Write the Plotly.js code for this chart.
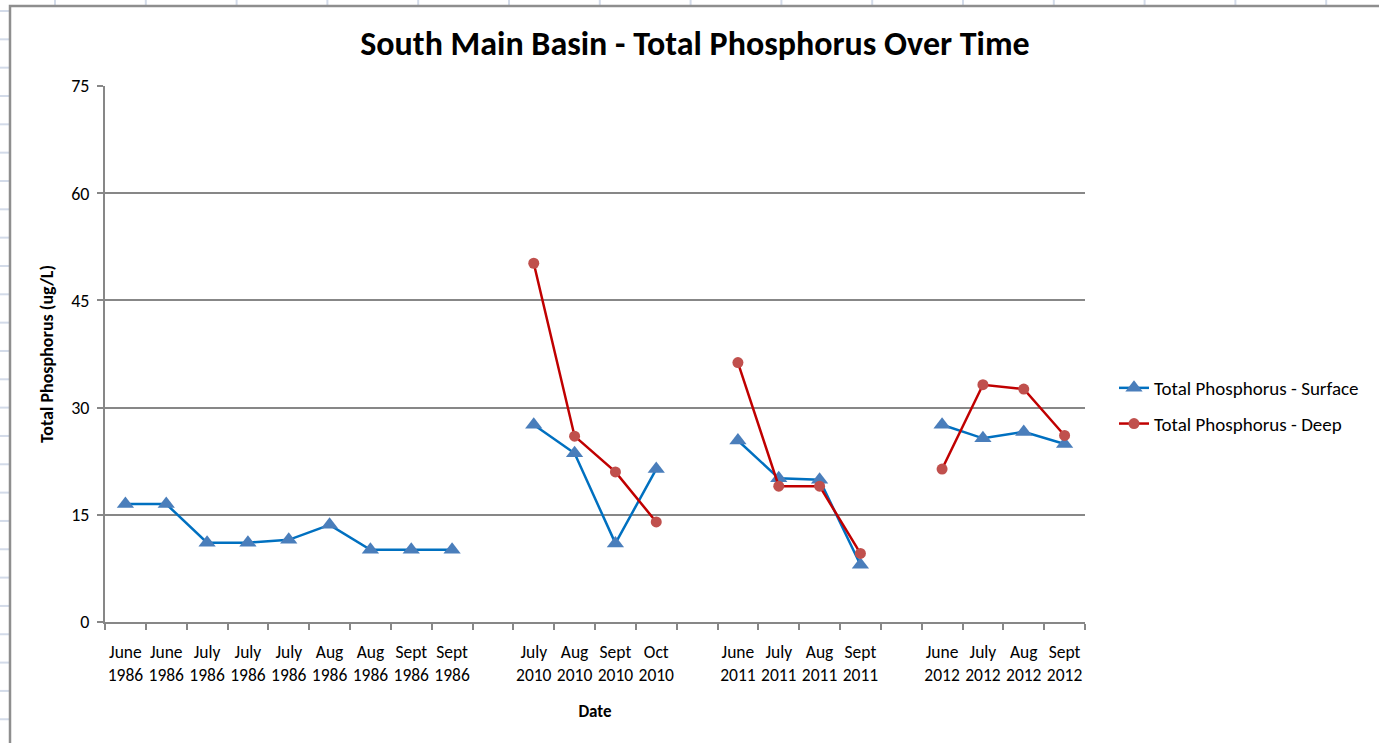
<!DOCTYPE html>
<html>
<head>
<meta charset="utf-8">
<script src="https://cdn.plot.ly/plotly-3.0.1.min.js"></script>
<style>
  html, body { margin: 0; padding: 0; background: #ffffff; }
  #chart { width: 1379px; height: 743px; }
</style>
</head>
<body>
<div id="chart"></div>
<script>
// ---- Data ----
const months = ["June","June","July","July","July","Aug","Aug","Sept","Sept","",
                "July","Aug","Sept","Oct","",
                "June","July","Aug","Sept","",
                "June","July","Aug","Sept"];
const years  = ["1986","1986","1986","1986","1986","1986","1986","1986","1986","",
                "2010","2010","2010","2010","",
                "2011","2011","2011","2011","",
                "2012","2012","2012","2012"];
const surface = [16.5,16.5,11.1,11.1,11.5,13.6,10.1,10.1,10.1,null,
                 27.6,23.6,11.0,21.4,null,
                 25.4,20.1,19.9,8.0,null,
                 27.6,25.7,26.6,24.9];
const deep    = [null,null,null,null,null,null,null,null,null,null,
                 50.2,26.0,21.0,14.0,null,
                 36.3,19.0,19.0,9.6,null,
                 21.4,33.2,32.6,26.1];
const yTicks = [0,15,30,45,60,75];

// ---- Derived ----
const idx = months.map((_, i) => i);
const labelIdx = idx.filter(i => months[i] !== "");
const labelText = labelIdx.map(i => months[i] + "<br>" + years[i]);
const boundaries = idx.map(i => i - 0.5).concat([months.length - 0.5]);

const FONT = "Carlito, Calibri, Lato, 'Liberation Sans', sans-serif";
const GRID = "#878787";

const traces = [
  {
    x: idx, y: surface, type: "scatter", mode: "lines+markers",
    name: "Total Phosphorus - Surface", legendgroup: "a",
    line: { color: "#0070C0", width: 2.5 },
    marker: { symbol: "triangle-up", size: 15, color: "#4A7EBB" },
    connectgaps: false, hoverinfo: "x+y"
  },
  {
    x: idx, y: deep, type: "scatter", mode: "lines+markers",
    name: "Total Phosphorus - Deep", legendgroup: "b",
    line: { color: "#C00000", width: 2.5 },
    marker: { symbol: "circle", size: 11, color: "#C0504D" },
    connectgaps: false, hoverinfo: "x+y"
  }
];

// ---- Decorations (spreadsheet frame) ----
const L = 105, R = 1085, T = 86, B = 622;
const px = v => (v - L) / (R - L);
const py = v => (B - v) / (B - T);
const shapes = [];
for (let k = 0; k < 27; k++) {
  const yy = 11 + 28.33 * k;
  shapes.push({ type: "line", xref: "paper", yref: "paper", layer: "below",
    x0: px(0), x1: px(9), y0: py(yy), y1: py(yy),
    line: { color: "#D3DBE9", width: 2 } });
}
for (let k = 0; k < 15; k++) {
  const xx = 55 + 90.8 * k;
  shapes.push({ type: "line", xref: "paper", yref: "paper", layer: "below",
    x0: px(xx), x1: px(xx), y0: py(0), y1: py(5),
    line: { color: "#D3DBE9", width: 2 } });
}
shapes.push({ type: "rect", xref: "paper", yref: "paper", layer: "below",
  x0: px(10), x1: px(1400), y0: py(6), y1: py(780),
  line: { color: "#8E8E8E", width: 2.5 }, fillcolor: "rgba(0,0,0,0)" });

const layout = {
  width: 1379, height: 743,
  margin: { l: L, r: 1379 - R, t: T, b: 743 - B, pad: 0 },
  paper_bgcolor: "#ffffff", plot_bgcolor: "#ffffff",
  font: { family: FONT, size: 17, color: "#000000" },
  showlegend: true,
  title: {
    text: "<b>South Main Basin - Total Phosphorus Over Time</b>",
    font: { family: FONT, size: 34, color: "#000000" },
    x: px(695), xref: "paper", xanchor: "center",
    y: 1 - 43 / 743, yref: "container", yanchor: "middle"
  },
  xaxis: {
    range: [-0.5, months.length - 0.5],
    tickmode: "array", tickvals: labelIdx, ticktext: labelText,
    ticks: "", showgrid: false, zeroline: false,
    showline: true, linecolor: GRID, linewidth: 2,
    tickfont: { family: FONT, size: 17.5, color: "#000000" },
    ticklabelstandoff: 13,
    minor: { tickmode: "array", tickvals: boundaries, ticks: "outside",
             ticklen: 6, tickwidth: 2, tickcolor: GRID, showgrid: false },
    title: { text: "<b>Date</b>", font: { family: FONT, size: 17, color: "#000000" }, standoff: 20 },
    fixedrange: true
  },
  yaxis: {
    range: [0, 75], tickmode: "array", tickvals: yTicks,
    ticks: "outside", ticklen: 6, tickwidth: 2, tickcolor: GRID,
    showgrid: true, gridcolor: GRID, gridwidth: 2, zeroline: false,
    showline: true, linecolor: GRID, linewidth: 2,
    tickfont: { family: FONT, size: 18, color: "#000000" },
    ticklabelstandoff: 4,
    title: { text: "<b>Total Phosphorus (ug/L)</b>", font: { family: FONT, size: 18, color: "#000000" }, standoff: 13 },
    fixedrange: true
  },
  legend: {
    x: px(1114), xanchor: "left", y: py(406), yanchor: "middle",
    font: { family: FONT, size: 19, color: "#000000" },
    bgcolor: "rgba(0,0,0,0)", traceorder: "grouped", tracegroupgap: 8,
    itemwidth: 30
  },
  shapes: shapes
};

Plotly.newPlot("chart", traces, layout, { displayModeBar: false, staticPlot: true });
</script>
</body>
</html>
